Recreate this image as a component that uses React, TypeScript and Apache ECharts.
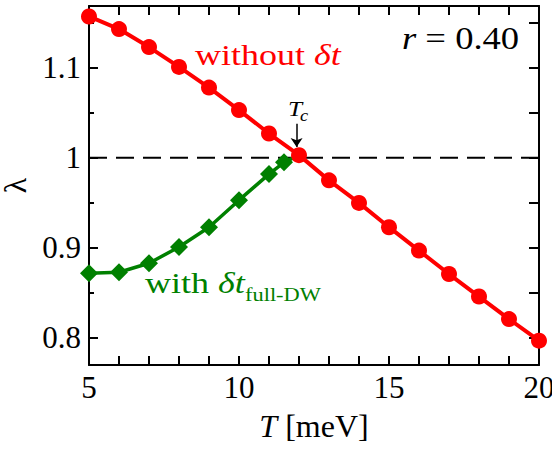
import React, { useEffect, useRef } from "react";
import * as echarts from "echarts";

// ---- data ----
const T_WITHOUT = [5, 6, 7, 8, 9, 10, 11, 12, 13, 14, 15, 16, 17, 18, 19, 20];
const LAMBDA_WITHOUT = [1.157, 1.143, 1.123, 1.101, 1.078, 1.053, 1.027, 1.003, 0.975, 0.95, 0.923, 0.897, 0.871, 0.846, 0.821, 0.797];
const T_WITH = [5, 6, 7, 8, 9, 10, 11, 11.5, 12];
const LAMBDA_WITH = [0.872, 0.873, 0.883, 0.901, 0.923, 0.953, 0.982, 0.995, 1.003];
const X_LABELS = [5, 10, 15, 20];
const Y_LABELS = [0.8, 0.9, 1, 1.1];
const Y_MINOR_LEFT = [0.85, 0.95, 1.05, 1.15];
const Y_TICKS_RIGHT = [0.8, 0.85, 0.9, 0.95, 1, 1.05, 1.1, 1.15];
const X_RANGE = [5, 20];
const Y_RANGE = [0.77, 1.1686];
const REF_LEVEL = 1;
const TC_ARROW = { x: 11.92, from: 1.038, to: 1.012 };

const SERIF = "Liberation Serif";
const RED = "#ff0000";
const GREEN = "#008000";

export default function App() {
  const ref = useRef<HTMLDivElement>(null);

  useEffect(() => {
    if (!ref.current) return;
    const chart = echarts.init(ref.current, undefined, { renderer: "svg" });

    const withData = T_WITH.map((t, i) => {
      const item: any = { value: [t, LAMBDA_WITH[i]] };
      if (i === T_WITH.length - 1) item.symbol = "none";
      return item;
    });
    const withoutData = T_WITHOUT.map((t, i) => [t, LAMBDA_WITHOUT[i]]);

    const axisLine = { show: true, lineStyle: { color: "#000", width: 2 } };

    const option: any = {
      animation: false,
      backgroundColor: "#fff",
      grid: { left: 89, right: 13, top: 6, bottom: 84, containLabel: false, outerBoundsMode: "none" },
      xAxis: [
        {
          type: "value",
          position: "bottom",
          min: X_RANGE[0],
          max: X_RANGE[1],
          interval: 1,
          axisLine,
          axisTick: { show: true, inside: true, length: 9, lineStyle: { color: "#000", width: 2 } },
          axisLabel: {
            customValues: X_LABELS,
            color: "#000",
            fontFamily: SERIF,
            fontSize: 31,
            margin: 7,
          },
          splitLine: { show: false },
          name: "{i|T} [meV]",
          nameLocation: "middle",
          nameGap: 45,
          nameTextStyle: {
            color: "#000",
            fontFamily: SERIF,
            fontSize: 32,
            rich: { i: { fontStyle: "italic", fontFamily: SERIF, fontSize: 32, color: "#000" } },
          },
        },
        {
          type: "value",
          position: "top",
          min: X_RANGE[0],
          max: X_RANGE[1],
          interval: 1,
          axisLine,
          axisTick: { show: true, inside: true, length: 9, lineStyle: { color: "#000", width: 2 } },
          axisLabel: { show: false },
          splitLine: { show: false },
        },
      ],
      yAxis: [
        {
          type: "value",
          position: "left",
          min: Y_RANGE[0],
          max: Y_RANGE[1],
          axisLine,
          axisTick: { show: true, inside: true, length: 9, customValues: Y_LABELS, lineStyle: { color: "#000", width: 2 } },
          axisLabel: {
            customValues: Y_LABELS,
            color: "#000",
            fontFamily: SERIF,
            fontSize: 31,
            margin: 8,
          },
          splitLine: { show: false },
          name: "λ",
          nameLocation: "middle",
          nameGap: 48,
          nameRotate: 90,
          nameTextStyle: { color: "#000", fontFamily: SERIF, fontSize: 32 },
        },
        {
          type: "value",
          position: "left",
          min: Y_RANGE[0],
          max: Y_RANGE[1],
          axisLine: { show: false },
          axisTick: { show: true, inside: true, length: 5, customValues: Y_MINOR_LEFT, lineStyle: { color: "#000", width: 2 } },
          axisLabel: { show: false },
          splitLine: { show: false },
        },
        {
          type: "value",
          position: "right",
          min: Y_RANGE[0],
          max: Y_RANGE[1],
          axisLine,
          axisTick: { show: true, inside: true, length: 10, customValues: Y_TICKS_RIGHT, lineStyle: { color: "#000", width: 2 } },
          axisLabel: { show: false },
          splitLine: { show: false },
        },
      ],
      series: [
        {
          type: "line",
          z: 1,
          symbol: "none",
          silent: true,
          data: [
            [X_RANGE[0], REF_LEVEL],
            [X_RANGE[1], REF_LEVEL],
          ],
          lineStyle: { color: "#000", width: 2, type: [18, 9] },
          markLine: {
            silent: true,
            symbol: ["none", "arrow"],
            symbolSize: 9,
            label: { show: false },
            lineStyle: { color: "#000", width: 1.5, type: "solid" },
            data: [
              [
                { coord: [TC_ARROW.x, TC_ARROW.from] },
                { coord: [TC_ARROW.x, TC_ARROW.to] },
              ],
            ],
          },
        },
        {
          type: "line",
          name: "with",
          z: 2,
          data: withData,
          symbol: "diamond",
          symbolSize: 18,
          itemStyle: { color: GREEN },
          lineStyle: { color: GREEN, width: 3.5 },
        },
        {
          type: "line",
          name: "without",
          z: 3,
          data: withoutData,
          symbol: "circle",
          symbolSize: 16,
          itemStyle: { color: RED },
          lineStyle: { color: RED, width: 4 },
        },
      ],
      graphic: [
        {
          type: "text",
          x: 195,
          y: 55,
          scaleX: 1.2,
          z: 10,
          style: {
            text: "without {i|δt}",
            fill: RED,
            fontFamily: SERIF,
            fontSize: 30,
            verticalAlign: "middle",
            rich: { i: { fontStyle: "italic", fontFamily: SERIF, fontSize: 30, fill: RED } },
          },
        },
        {
          type: "text",
          x: 402,
          y: 38,
          scaleX: 1.18,
          z: 10,
          style: {
            text: "{i|r} = 0.40",
            fill: "#000",
            fontFamily: SERIF,
            fontSize: 31,
            verticalAlign: "middle",
            rich: { i: { fontStyle: "italic", fontFamily: SERIF, fontSize: 31, fill: "#000" } },
          },
        },
        {
          type: "text",
          x: 145,
          y: 283,
          scaleX: 1.2,
          z: 10,
          style: {
            text: "with {i|δt}",
            fill: GREEN,
            fontFamily: SERIF,
            fontSize: 30,
            verticalAlign: "middle",
            rich: { i: { fontStyle: "italic", fontFamily: SERIF, fontSize: 30, fill: GREEN } },
          },
        },
        {
          type: "text",
          x: 245,
          y: 294,
          scaleX: 1.18,
          z: 10,
          style: {
            text: "full-DW",
            fill: GREEN,
            fontFamily: SERIF,
            fontSize: 19,
            verticalAlign: "middle",
          },
        },
        {
          type: "text",
          x: 288,
          y: 109,
          scaleX: 1.15,
          z: 10,
          style: {
            text: "T",
            fill: "#000",
            fontFamily: SERIF,
            fontStyle: "italic",
            fontSize: 22,
            verticalAlign: "middle",
          },
        },
        {
          type: "text",
          x: 300,
          y: 116,
          scaleX: 1.15,
          z: 10,
          style: {
            text: "c",
            fill: "#000",
            fontFamily: SERIF,
            fontStyle: "italic",
            fontSize: 16,
            verticalAlign: "middle",
          },
        },
      ],
    };

    chart.setOption(option);
    return () => chart.dispose();
  }, []);

  return (
    <div
      ref={ref}
      style={{ position: "fixed", left: 0, top: 0, width: 552, height: 449, background: "#fff" }}
    />
  );
}
